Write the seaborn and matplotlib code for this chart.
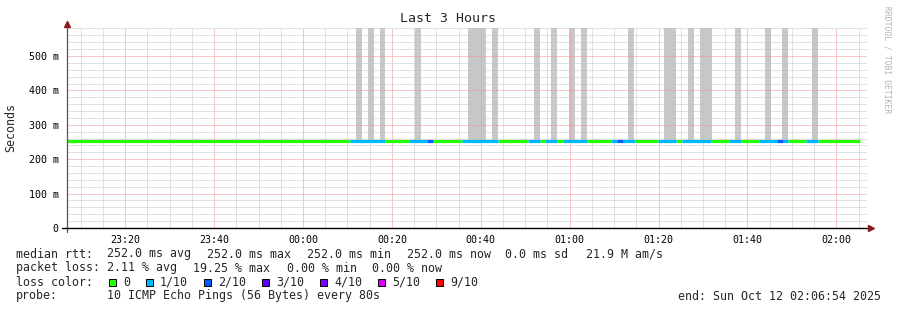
import matplotlib
matplotlib.use("Agg")
import matplotlib.pyplot as plt
import matplotlib.dates as mdates
from matplotlib.ticker import MultipleLocator, FuncFormatter
from matplotlib.patches import Rectangle
import numpy as np
import pandas as pd
import seaborn as sns

# ---------------- data ----------------
graph_start = "2025-10-11 23:06:54"
graph_end = "2025-10-12 02:06:54"
last_sample = "2025-10-12 02:05:20"
median_rtt = 0.252          # seconds (constant 252.0 ms)
smoke_top = 0.60            # smoke reaches above the visible range

loss_start = ["00:10:35", "00:23:51", "00:27:54", "00:35:47", "00:50:38", "00:54:27",
              "00:58:30", "01:09:18", "01:10:39", "01:12:00", "01:19:53", "01:25:17",
              "01:35:51", "01:42:36", "01:46:39", "01:48:00", "01:53:11"]
loss_end = ["00:18:27", "00:27:54", "00:29:15", "00:43:53", "00:53:20", "00:57:09",
            "01:03:54", "01:10:39", "01:12:00", "01:14:39", "01:23:56", "01:31:48",
            "01:38:33", "01:46:39", "01:48:00", "01:49:09", "01:55:53"]
loss_level = [1, 1, 2, 1, 1, 1, 1, 1, 2, 1, 1, 1, 1, 1, 2, 1, 1]

smoke_start = ["00:11:56", "00:14:38", "00:17:20", "00:25:12", "00:37:08", "00:42:32",
               "00:51:58", "00:55:48", "00:59:51", "01:02:33", "01:13:08", "01:21:14",
               "01:26:38", "01:29:20", "01:37:12", "01:43:57", "01:47:47", "01:54:32"]
smoke_end = ["00:13:17", "00:15:58", "00:18:27", "00:26:33", "00:41:10", "00:43:52",
             "00:53:18", "00:57:08", "01:01:11", "01:03:53", "01:14:28", "01:23:54",
             "01:27:58", "01:32:00", "01:38:32", "01:45:17", "01:49:07", "01:55:52"]

loss_labels = ["0", "1/10", "2/10", "3/10", "4/10", "5/10", "9/10"]
loss_colors = ["#26ff00", "#00b8ff", "#0059ff", "#5e00ff", "#7e00ff", "#dd00ff", "#ff0000"]

rtt_items = ["252.0 ms avg", "252.0 ms max", "252.0 ms min", "252.0 ms now",
             "0.0 ms sd", "21.9 M am/s"]
loss_items = ["2.11 % avg", "19.25 % max", "0.00 % min", "0.00 % now"]
probe_text = "10 ICMP Echo Pings (56 Bytes) every 80s"
end_text = "end: Sun Oct 12 02:06:54 2025"

# ---------------- helpers ----------------
def ts(s):
    return pd.Timestamp("2025-10-12 " + s)

t0 = pd.Timestamp(graph_start)
t1 = pd.Timestamp(graph_end)
tl = pd.Timestamp(last_sample)

segs = []
cur = t0
for s, e, l in zip(loss_start, loss_end, loss_level):
    s, e = ts(s), ts(e)
    if s > cur:
        segs.append((cur, s, 0))
    segs.append((s, e, l))
    cur = e
if cur < tl:
    segs.append((cur, tl, 0))

rows = []
for i, (s, e, l) in enumerate(segs):
    rows.append(dict(time=s, rtt=median_rtt, loss=l, seg=i))
    rows.append(dict(time=e, rtt=median_rtt, loss=l, seg=i))
df = pd.DataFrame(rows)

W, H = 897, 310
sns.set_theme(style="white")
plt.rcParams['font.family'] = ['DejaVu Sans Mono']

fig = plt.figure(figsize=(W / 100, H / 100), dpi=100)
ax = fig.add_axes([67 / W, 82 / H, 800 / W, 200 / H])
ax.set_facecolor("white")

# smoke bars
sm_s = [ts(s) for s in smoke_start]
sm_w = [(ts(e) - ts(s)) / pd.Timedelta(days=1) for s, e in zip(smoke_start, smoke_end)]
ax.bar(sm_s, [smoke_top - median_rtt] * len(sm_s), bottom=median_rtt, width=sm_w,
       align="edge", color="#c8c8c8", linewidth=0, zorder=1)

# median line coloured by loss
pal = {i: c for i, c in zip([0, 1, 2, 3, 4, 5, 9], loss_colors)}
used = sorted(df["loss"].unique())
sns.lineplot(data=df, x="time", y="rtt", hue="loss", units="seg", estimator=None,
             palette={k: pal[k] for k in used}, linewidth=2.3, legend=False,
             sort=False, ax=ax, zorder=3)
for ln in ax.lines:
    ln.set_solid_capstyle("butt")

ax.set_xlim(t0, t1)
ax.set_ylim(0, 0.5814)

# ticks & grid
ax.xaxis.set_major_locator(mdates.MinuteLocator(byminute=[0, 20, 40]))
ax.xaxis.set_minor_locator(mdates.MinuteLocator(byminute=range(0, 60, 5)))
ax.xaxis.set_major_formatter(mdates.DateFormatter("%H:%M"))
ax.yaxis.set_major_locator(MultipleLocator(0.1))
ax.yaxis.set_minor_locator(MultipleLocator(0.02))
ax.yaxis.set_major_formatter(FuncFormatter(lambda v, p: "0" if abs(v) < 1e-9 else f"{v*1000:.0f} m"))

ax.set_axisbelow(False)
ax.grid(which="major", color="#f09090", linestyle=(0, (1, 1)), linewidth=0.72)
ax.grid(which="minor", color="#c4c4c4", linestyle=(0, (1, 1)), linewidth=0.72)
for axis in (ax.xaxis, ax.yaxis):
    for tk in axis.get_major_ticks() + axis.get_minor_ticks():
        tk.gridline.set_zorder(2)

ax.tick_params(axis="both", which="major", direction="inout", length=4, width=0.7,
               color="#555555", labelsize=7.2, labelcolor="black")
ax.tick_params(axis="both", which="minor", direction="inout", length=2, width=0.7,
               color="#777777")
ax.tick_params(axis="x", which="major", pad=3)
ax.tick_params(axis="y", which="major", pad=4)
ax.set_xlabel("")
ax.set_ylabel("")

for sp in ax.spines.values():
    sp.set_visible(False)
# axis lines with arrows
ax.plot([0, 0], [-4 / 200, 1 + 3 / 200], transform=ax.transAxes, color="#555555",
        lw=0.9, clip_on=False, zorder=5)
ax.plot([-5 / 800, 1 + 2 / 800], [0, 0], transform=ax.transAxes, color="black",
        lw=1.0, clip_on=False, zorder=5)
ax.plot([0], [1 + 4 / 200], marker="^", markersize=4, color="#8b1a1a",
        transform=ax.transAxes, clip_on=False, zorder=6)
ax.plot([1 + 4 / 800], [0], marker=">", markersize=4, color="#8b1a1a",
        transform=ax.transAxes, clip_on=False, zorder=6)

# texts
def ft(x, y, s, **kw):
    fig.text(x / W, 1 - y / H, s, **kw)

ft(448, 19, "Last 3 Hours", ha="center", va="center", fontsize=9.5)
ft(11, 127, "Seconds", ha="center", va="center", rotation=90, fontsize=8.4)
ft(887, 60, "RRDTOOL / TOBI OETIKER", ha="center", va="center", rotation=270,
   fontsize=5.8, color="#b4b4b4")

fs = 8.4
ft(16, 254, "median rtt:", ha="left", va="center", fontsize=fs)
for xx, s in zip([107, 207, 307, 407, 505, 586], rtt_items):
    ft(xx, 254, s, ha="left", va="center", fontsize=fs)
ft(16, 268, "packet loss:", ha="left", va="center", fontsize=fs)
for xx, s in zip([107, 193, 287, 372], loss_items):
    ft(xx, 268, s, ha="left", va="center", fontsize=fs)
ft(16, 282, "loss color:", ha="left", va="center", fontsize=fs)
ft(16, 296, "probe:", ha="left", va="center", fontsize=fs)
ft(107, 296, probe_text, ha="left", va="center", fontsize=fs)
ft(881, 296, end_text, ha="right", va="center", fontsize=fs)

x = 109
for lab, col in zip(loss_labels, loss_colors):
    fig.add_artist(Rectangle((x / W, 1 - 286 / H), 7 / W, 7 / H, transform=fig.transFigure,
                             facecolor=col, edgecolor="black", linewidth=0.7))
    ft(x + 14, 282, lab, ha="left", va="center", fontsize=fs)
    x += 7 * len(lab) + 30

fig.savefig("out.png", dpi=100)
